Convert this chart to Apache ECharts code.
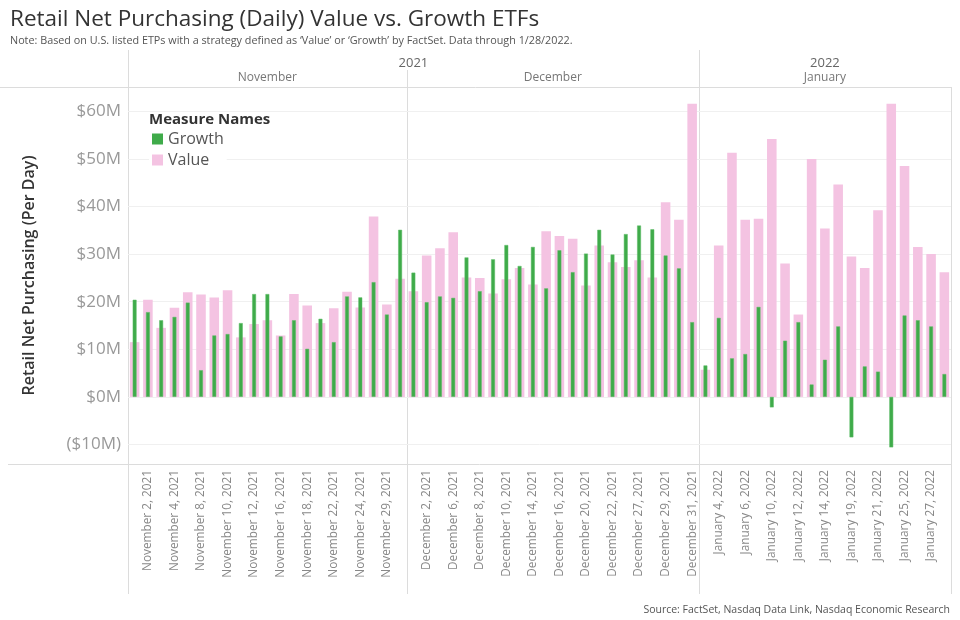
<!DOCTYPE html>
<html><head><meta charset="utf-8">
<script src="https://cdn.jsdelivr.net/npm/echarts@6/dist/echarts.min.js"></script>
<style>html,body{margin:0;padding:0;background:#fff}#c{width:960px;height:620px}</style>
</head><body><div id="c"></div>
<script>
const categories = [
 'November 1, 2021','November 2, 2021','November 3, 2021','November 4, 2021','November 5, 2021','November 8, 2021','November 9, 2021','November 10, 2021','November 11, 2021','November 12, 2021','November 15, 2021','November 16, 2021','November 17, 2021','November 18, 2021','November 19, 2021','November 22, 2021','November 23, 2021','November 24, 2021','November 26, 2021','November 29, 2021','November 30, 2021',
 'December 1, 2021','December 2, 2021','December 3, 2021','December 6, 2021','December 7, 2021','December 8, 2021','December 9, 2021','December 10, 2021','December 13, 2021','December 14, 2021','December 15, 2021','December 16, 2021','December 17, 2021','December 20, 2021','December 21, 2021','December 22, 2021','December 23, 2021','December 27, 2021','December 28, 2021','December 29, 2021','December 30, 2021','December 31, 2021',
 'January 3, 2022','January 4, 2022','January 5, 2022','January 6, 2022','January 7, 2022','January 10, 2022','January 11, 2022','January 12, 2022','January 13, 2022','January 14, 2022','January 18, 2022','January 19, 2022','January 20, 2022','January 21, 2022','January 24, 2022','January 25, 2022','January 26, 2022','January 27, 2022','January 28, 2022'
];
// $ millions per day
const growth = [
 20.4,17.8,16.1,16.8,19.8,5.6,12.9,13.2,15.5,21.6,21.6,12.7,16.1,10.1,16.4,11.5,21.1,20.9,24.1,17.3,35.1,
 26.1,19.9,21.1,20.8,29.3,22.2,28.9,31.9,27.5,31.5,22.8,30.8,26.2,30.1,35.1,29.9,34.2,36.0,35.2,29.7,27.0,15.7,
 6.6,16.6,8.1,9.0,18.9,-2.2,11.8,15.7,2.6,7.8,14.8,-8.5,6.4,5.3,-10.6,17.1,16.1,14.8,4.8
];
const value = [
 11.5,20.4,14.5,18.7,22.0,21.5,20.9,22.4,12.5,15.3,16.1,12.9,21.6,19.2,15.5,18.6,22.1,18.8,37.9,19.4,24.8,
 22.2,29.7,31.2,34.6,25.1,25.0,21.7,24.7,27.1,23.6,34.8,33.8,33.2,23.4,31.8,28.3,27.3,28.7,25.1,40.9,37.2,61.6,
 5.7,31.8,51.3,37.2,37.4,54.2,28.0,17.3,50.0,35.4,44.6,29.5,27.1,39.2,61.6,48.5,31.5,30.0,26.2
];
const yTicks = [-10, 0, 10, 20, 30, 40, 50, 60];
const yTickLabels = ['($10M)', '$0M', '$10M', '$20M', '$30M', '$40M', '$50M', '$60M'];
const yMin = -14.1, yMax = 65.1;

(function () {
const FONT = 'Open Sans';
const monthOf = categories.map(c => c.split(' ')[0]);
const yearOf = categories.map(c => c.split(', ')[1]);
const posInMonth = [];
categories.forEach((c, i) => { posInMonth.push(i > 0 && monthOf[i] === monthOf[i-1] ? posInMonth[i-1] + 1 : 0); });

const chart = echarts.init(document.getElementById('c'));
const option = {
  animation: false,
  backgroundColor: '#fff',
  textStyle: { fontFamily: FONT },
  title: [
    { text: 'Retail Net Purchasing (Daily) Value vs. Growth ETFs', left: 5, top: 3,
      textStyle: { fontFamily: FONT, fontSize: 22.5, fontWeight: 'normal', color: '#333' } },
    { text: 'Note: Based on U.S. listed ETPs with a strategy defined as \u2018Value\u2019 or \u2018Growth\u2019 by FactSet. Data through 1/28/2022.', left: 5, top: 30,
      textStyle: { fontFamily: FONT, fontSize: 10.8, fontWeight: 'normal', color: '#555' } },
    { text: 'Measure Names', left: 144, top: 107,
      textStyle: { fontFamily: FONT, fontSize: 15, fontWeight: 'bold', color: '#333' } },
    { text: 'Source: FactSet, Nasdaq Data Link, Nasdaq Economic Research', right: 5, top: 600,
      textStyle: { fontFamily: FONT, fontSize: 10.5, fontWeight: 'normal', color: '#555' } }
  ],
  legend: {
    data: ['Growth', 'Value'], orient: 'vertical', left: 149, top: 129, padding: [2, 3],
    backgroundColor: '#fff', z: 10,
    itemWidth: 11, itemHeight: 11, itemGap: 5, icon: 'rect',
    itemStyle: { borderWidth: 0 },
    textStyle: { fontFamily: FONT, fontSize: 16, color: '#555' }
  },
  grid: { left: 128, right: 9, top: 87, bottom: 156, containLabel: false },
  xAxis: [
    { type: 'category', data: categories, boundaryGap: true,
      axisLine: { show: false }, axisTick: { show: false },
      axisLabel: { rotate: 90, interval: 0, margin: 6, color: '#888', fontFamily: FONT, fontSize: 11.8,
        formatter: (v, i) => (posInMonth[i] % 2 === 1 ? v : '') },
      splitLine: { show: false } },
    { type: 'category', data: categories, boundaryGap: true, show: false }
  ],
  yAxis: {
    type: 'value', min: yMin, max: yMax,
    name: 'Retail Net Purchasing (Per Day)', nameLocation: 'middle', nameGap: 91,
    nameTextStyle: { fontFamily: FONT, fontSize: 16, fontWeight: 600, color: '#333' },
    axisLine: { show: false }, axisTick: { show: false }, axisLabel: { show: false }, splitLine: { show: false }
  },
  series: [
    { name: 'grid', type: 'line', data: [], z: 1, silent: true,
      markLine: { silent: true, z: 1, symbol: ['none', 'none'], animation: false,
        lineStyle: { color: '#f0f0f0', type: 'solid', width: 1 },
        label: { show: true, position: 'start', distance: 7, color: '#999', fontFamily: FONT, fontSize: 17,
          formatter: p => yTickLabels[yTicks.indexOf(p.value)] },
        emphasis: { disabled: true },
        data: yTicks.map(v => ({ yAxis: v })) } },
    { name: 'Value', type: 'bar', xAxisIndex: 0, data: value, barWidth: '72%', z: 2,
      itemStyle: { color: '#f4c3e2' } },
    { name: 'Growth', type: 'bar', xAxisIndex: 1, data: growth, barWidth: '29%', z: 3,
      itemStyle: { color: '#3fab4a', borderColor: '#5cbc66', borderWidth: 0.5 } }
  ]
};
chart.setOption(option);

// month / year header and divider lines, positioned from the axis scale
const px = i => chart.convertToPixel({ xAxisIndex: 0 }, i);
const py = v => chart.convertToPixel({ yAxisIndex: 0 }, v);
const band = px(1) - px(0);
const edgeR = px(categories.length - 1) + band / 2;
const topY = py(yMax), bottomY = py(yMin);
const monthGroups = [], yearGroups = [];
categories.forEach((c, i) => {
  if (i === 0 || monthOf[i] !== monthOf[i-1]) monthGroups.push({ name: monthOf[i], start: i, end: i });
  else monthGroups[monthGroups.length - 1].end = i;
  if (i === 0 || yearOf[i] !== yearOf[i-1]) yearGroups.push({ name: yearOf[i], start: i, end: i });
  else yearGroups[yearGroups.length - 1].end = i;
});
const ls = { stroke: '#dcdcdc', lineWidth: 1 };
const g = [];
const hline = (x1, x2, y) => g.push({ type: 'line', silent: true, z: 0, shape: { x1, y1: Math.round(y) + 0.5, x2, y2: Math.round(y) + 0.5 }, style: ls });
const vline = (x, y1, y2) => g.push({ type: 'line', silent: true, z: 0, shape: { x1: Math.round(x) + 0.5, y1, x2: Math.round(x) + 0.5, y2 }, style: ls });
hline(0, edgeR, topY);
hline(8, edgeR, bottomY);
vline(edgeR, topY, bottomY + 130);
yearGroups.forEach(y => {
  const x1 = px(y.start) - band / 2, x2 = px(y.end) + band / 2;
  vline(x1, topY - 37, bottomY + 130);
  g.push({ type: 'text', silent: true, style: { text: y.name, x: (x1 + x2) / 2, y: topY - 24, align: 'center', verticalAlign: 'middle', fill: '#666', font: '13px "' + FONT + '"' } });
});
monthGroups.forEach(m => {
  const x1 = px(m.start) - band / 2, x2 = px(m.end) + band / 2;
  if (yearGroups.every(y => y.start !== m.start)) vline(x1, topY - 17, bottomY + 130);
  g.push({ type: 'text', silent: true, style: { text: m.name, x: (x1 + x2) / 2, y: topY - 9, align: 'center', verticalAlign: 'middle', fill: '#777', font: '12px "' + FONT + '"' } });
});
chart.setOption({ graphic: g });
})();
</script>
</body></html>
